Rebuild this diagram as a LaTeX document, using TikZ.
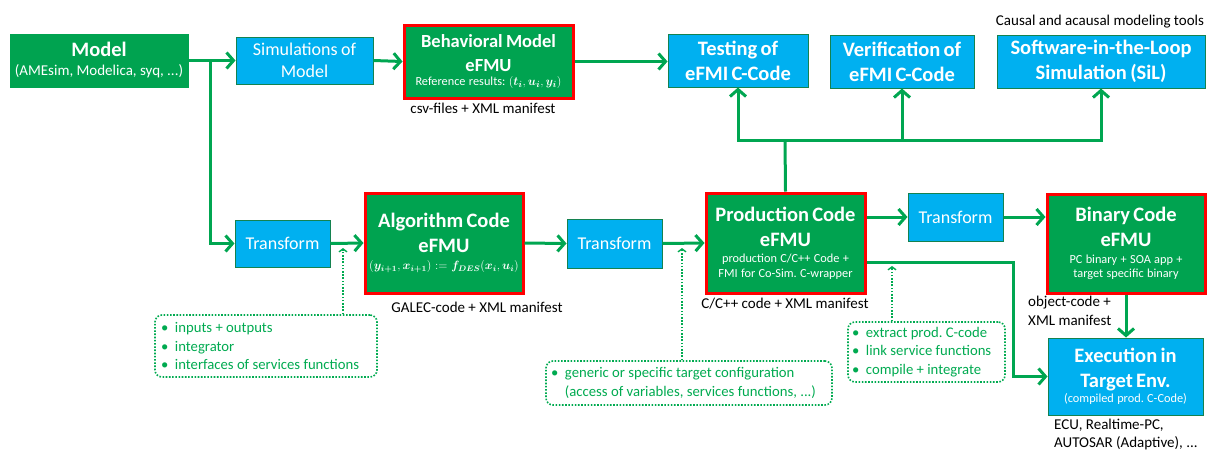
\documentclass[tikz,border=0pt]{standalone}
\usepackage{amsmath}
\usepackage{bm}
\usepackage{fontspec}
\setmainfont{Carlito}
\frenchspacing
\usetikzlibrary{arrows.meta,positioning}
\definecolor{effgreen}{RGB}{0,163,80}
\definecolor{lngreen}{RGB}{0,166,81}
\definecolor{effblue}{RGB}{0,176,240}
\definecolor{bdgreen}{RGB}{20,130,80}
\definecolor{txgreen}{RGB}{0,170,80}
\newcommand{\ttl}{\fontsize{20.5}{25}\selectfont\bfseries}
\newcommand{\sbt}{\fontsize{12.3}{14.5}\selectfont}
\newcommand{\lbl}{\fontsize{15}{19}\selectfont}
\newcommand{\trf}{\fontsize{18}{22}\selectfont}
\tikzset{
  gbox/.style={fill=effgreen, draw=effgreen, line width=1pt, text=white, inner sep=0pt, align=center},
  rbox/.style={fill=effgreen, draw=red, line width=3pt, text=white, inner sep=0pt, align=center},
  bbox/.style={fill=effblue, draw=bdgreen, line width=1pt, text=white, inner sep=0pt, align=center},
  arr/.style={draw=lngreen, line width=3pt, -{Straight Barb[length=7pt,width=16pt,line width=3pt]}},
  conn/.style={draw=lngreen, line width=3pt},
  callout/.style={draw=txgreen, line width=1.6pt, dash pattern=on 1.6pt off 1.6pt, rounded corners=7pt, text=txgreen, inner sep=0pt, align=left},
  dotarr/.style={draw=txgreen, line width=1.6pt, dash pattern=on 1.6pt off 1.6pt, -{Straight Barb[length=3pt,width=8pt,line width=1.4pt]}},
  plain/.style={inner sep=0pt, text=black, font=\lbl, align=left}
}
\newcommand{\cotx}{\fontsize{14.7}{18.5}\selectfont}
\begin{document}
\begin{tikzpicture}[x=1pt,y=-1pt]
\useasboundingbox (0,0) rectangle (1212,451);
% top row
\node[gbox, minimum width=178pt, minimum height=53pt, text width=174pt] (model) at (99,60.5)
  {{\ttl Model\par}{\lbl (AMEsim, Modelica, syq, ...)\par}};
\node[bbox, minimum width=137pt, minimum height=47pt, text width=133pt] (sim) at (304.5,60.5)
  {{\trf Simulations of\\Model\par}};
\node[rbox, minimum width=169pt, minimum height=73pt, text width=164pt] (beh) at (488.5,61.5)
  {{\fontsize{18.5}{24}\selectfont\bfseries Behavioral Model\\eFMU\par}{\sbt Reference results: $(\bm{t_i},\bm{u_i},\bm{y_i})$\par}};
\node[bbox, minimum width=140pt, minimum height=53pt, text width=136pt] (test) at (738,60.5)
  {{\ttl Testing of\\eFMI C-Code\par}};
\node[bbox, minimum width=144pt, minimum height=53pt, text width=140pt] (verif) at (902,61.5)
  {{\ttl Verification of\\eFMI C-Code\par}};
\node[bbox, minimum width=208pt, minimum height=53pt, text width=204pt] (sil) at (1101,61.5)
  {{\ttl Software-in-the-Loop\\Simulation (SiL)\par}};
\node[plain, anchor=center] (tools) at (1100,22) {Causal and acausal modeling tools};
\node[plain, anchor=center] (csv) at (483,108) {csv-files + XML manifest};
% bottom row
\node[bbox, minimum width=95pt, minimum height=47pt, text width=91pt] (tr1) at (282.5,243.5)
  {{\trf Transform\par}};
\node[rbox, minimum width=158pt, minimum height=100pt, text width=154pt] (alg) at (444,243)
  {{\ttl Algorithm Code\\eFMU\par}\vspace{3pt}{\fontsize{12}{14}\selectfont $(\bm{y_{i+1}},\bm{x_{i+1}}) := \bm{f_{DES}}(\bm{x_i},\bm{u_i})$\par}};
\node[bbox, minimum width=95pt, minimum height=49pt, text width=91pt] (tr2) at (614.5,243.5)
  {{\trf Transform\par}};
\node[rbox, minimum width=159pt, minimum height=100pt, text width=155pt] (prod) at (785.5,243)
  {{\ttl Production Code\\eFMU\par}\vspace{2pt}{\sbt production C/C++ Code +\\FMI for Co-Sim. C-wrapper\par}};
\node[bbox, minimum width=95pt, minimum height=48pt, text width=91pt] (tr3) at (955.5,217)
  {{\trf Transform\par}};
\node[rbox, minimum width=158pt, minimum height=99pt, text width=154pt] (bin) at (1126,243.5)
  {{\ttl Binary Code\\eFMU\par}\vspace{2pt}{\sbt PC binary + SOA app +\\target specific binary\par}};
\node[bbox, minimum width=155pt, minimum height=77pt, text width=151pt] (exec) at (1125.5,376.5)
  {{\ttl Execution in\\Target Env.\par}{\sbt (compiled prod. C-Code)\par}};
\node[plain, anchor=center] (galec) at (477,307) {GALEC-code + XML manifest};
\node[plain, anchor=center] (ccode) at (785,304) {C/C++ code + XML manifest};
\node[plain, anchor=north west] (obj) at (1028,296) {object-code +\\XML manifest};
\node[plain, anchor=north west, font={\fontsize{15}{18}\selectfont}] (ecu) at (1054,419) {ECU, Realtime-PC,\\AUTOSAR (Adaptive), ...};
% callouts
\node[callout, minimum width=222pt, minimum height=62pt, text width=210pt] (cb1) at (266,346)
  {{\cotx\textbullet\ \ inputs + outputs\\\textbullet\ \ integrator\\\textbullet\ \ interfaces of services functions\par}};
\node[callout, minimum width=286pt, minimum height=44pt, text width=276pt] (cb2) at (689,383)
  {{\cotx\textbullet\ \ generic or specific target configuration\\\phantom{\textbullet\ \ }(access of variables, services functions, ...)\par}};
\node[callout, minimum width=157pt, minimum height=60pt, text width=149pt] (cb3) at (926.5,352)
  {{\cotx\textbullet\ \ extract prod. C-code\\\textbullet\ \ link service functions\\\textbullet\ \ compile + integrate\par}};
% connectors
\coordinate (br) at (210,60.5);
\draw[arr] (model.east) -- (sim.west);
\draw[arr] (br) |- (tr1.west);
\draw[arr] (sim.east) -- (beh.west);
\draw[arr] (beh.east) -- (beh.east -| test.west);
\draw[arr] (tr1.east) -- (alg.west);
\draw[arr] (alg.east) -- (tr2.west);
\draw[arr] (tr2.east) -- (prod.west);
\coordinate (hub) at (785,140);
\draw[conn] (prod.north) -- (hub);
\draw[arr] (hub) -| (test.south);
\draw[arr] (hub) -| (verif.south);
\draw[arr] (hub) -| (sil.south);
\draw[arr] (prod.east |- tr3.west) -- (tr3.west);
\draw[arr] (tr3.east) -- (tr3.east -| bin.west);
\draw[arr] (bin.south) -- (bin.south |- exec.north);
\coordinate (c1) at (1013,262);
\draw[arr] (prod.east |- c1) -- (c1) |- (exec.west);
% dotted pointers
\coordinate (p1) at (343,248);
\coordinate (p2) at (682,248);
\coordinate (p3) at (892,266);
\draw[dotarr] (cb1.north -| p1) -- (p1);
\draw[dotarr] (cb2.north -| p2) -- (p2);
\draw[dotarr] (cb3.north -| p3) -- (p3);
\end{tikzpicture}
\end{document}
